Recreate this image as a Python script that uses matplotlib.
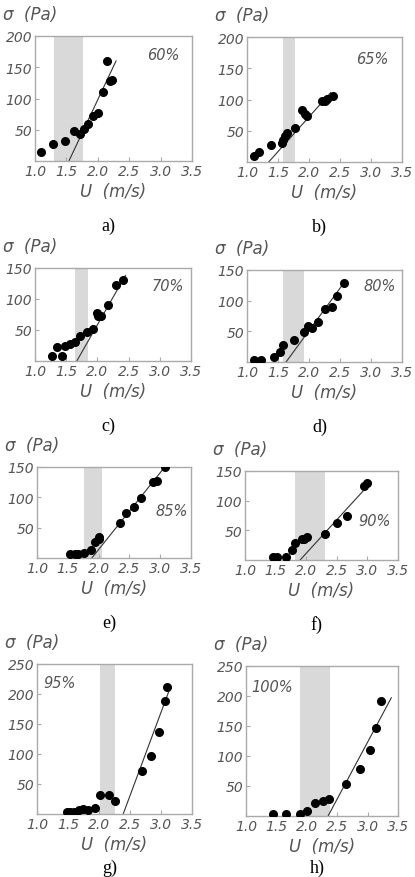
import matplotlib
matplotlib.use("Agg")
import matplotlib.pyplot as plt

W, H = 415, 878

# panel data: U (m/s), sigma (Pa)
u_a = [1.09, 1.29, 1.48, 1.62, 1.72, 1.78, 1.85, 1.93, 2.01, 2.09, 2.14, 2.19, 2.22]
s_a = [14, 28, 32, 48, 44, 52, 59, 72, 77, 111, 160, 128, 130]
u_b = [1.11, 1.19, 1.39, 1.56, 1.58, 1.62, 1.65, 1.78, 1.89, 1.93, 1.96, 2.21, 2.26, 2.29, 2.39]
s_b = [10, 16, 27, 31, 36, 41, 47, 55, 83, 77, 74, 98, 97, 101, 106]
u_c = [1.28, 1.36, 1.43, 1.48, 1.56, 1.64, 1.72, 1.84, 1.93, 1.99, 2.01, 2.05, 2.17, 2.30, 2.41]
s_c = [8, 22, 8, 24, 27, 30, 40, 46, 51, 78, 72, 73, 90, 123, 131]
u_d = [1.11, 1.23, 1.43, 1.53, 1.58, 1.76, 1.92, 1.99, 2.05, 2.15, 2.25, 2.37, 2.45, 2.56]
s_d = [4, 4, 8, 17, 27, 36, 49, 58, 55, 66, 86, 89, 108, 128]
u_e = [1.54, 1.61, 1.66, 1.76, 1.88, 1.94, 2.00, 2.01, 2.34, 2.45, 2.57, 2.69, 2.88, 2.94, 3.08]
s_e = [6, 6, 6, 9, 13, 26, 32, 34, 57, 75, 84, 99, 125, 127, 150]
u_f = [1.46, 1.52, 1.67, 1.77, 1.82, 1.93, 1.97, 2.01, 2.30, 2.50, 2.67, 2.94, 3.00]
s_f = [5, 5, 5, 17, 28, 35, 36, 38, 44, 62, 74, 125, 130]
u_g = [1.48, 1.54, 1.60, 1.67, 1.74, 1.82, 1.93, 2.02, 2.16, 2.26, 2.69, 2.84, 2.96, 3.07, 3.10]
s_g = [4, 4, 4, 6, 8, 7, 10, 31, 32, 21, 71, 97, 136, 189, 211]
u_h = [1.44, 1.66, 1.89, 2.00, 2.14, 2.27, 2.36, 2.65, 2.88, 3.04, 3.13, 3.22]
s_h = [4, 4, 4, 8, 21, 25, 29, 54, 78, 110, 146, 192]

# fitted lines (end points) and shaded bands
fit_u = [[1.54, 2.29], [1.35, 2.35], [1.67, 2.45], [1.63, 2.57],
         [1.89, 3.09], [1.90, 3.06], [2.39, 3.15], [2.35, 3.39]]
fit_s = [[0, 160], [0, 111], [0, 138], [0, 130],
         [0, 152], [0, 131], [0, 211], [0, 197]]
bands = [(1.31, 1.77), (1.58, 1.77), (1.64, 1.85), (1.58, 1.92),
         (1.77, 2.06), (1.82, 2.31), (2.02, 2.26), (1.89, 2.38)]
ymax = [200, 200, 150, 150, 150, 150, 250, 250]
pct = ["60%", "65%", "70%", "80%", "85%", "90%", "95%", "100%"]
letters = ["a)", "b)", "c)", "d)", "e)", "f)", "g)", "h)"]
xticks = [1.0, 1.5, 2.0, 2.5, 3.0, 3.5]

us = [u_a, u_b, u_c, u_d, u_e, u_f, u_g, u_h]
ss = [s_a, s_b, s_c, s_d, s_e, s_f, s_g, s_h]

# axes boxes in pixels: left, top, right, bottom
boxes = [(35, 37, 192, 162), (247, 38, 402, 163),
         (35, 269, 191, 362), (247, 271, 402, 363),
         (37, 468, 191, 559), (245, 472, 398, 561),
         (37, 665, 192, 815), (246, 667, 398, 817)]
# percent label positions (pixels)
pct_pos = [(163, 55), (372, 60), (168, 287), (380, 287),
           (172, 511), (375, 521), (60, 683), (272, 687)]

txt = "#555555"
frame = "#aaaaaa"
fig = plt.figure(figsize=(W / 100, H / 100), dpi=100)

for i in range(8):
    l, t, r, b = boxes[i]
    ax = fig.add_axes([l / W, 1 - b / H, (r - l) / W, (b - t) / H])
    ax.axvspan(*bands[i], color="#d9d9d9", lw=0, zorder=0)
    ax.plot(fit_u[i], fit_s[i], color="#333333", lw=0.8, zorder=2)
    ax.plot(us[i], ss[i], "o", color="black", ms=5.5, zorder=3)
    ax.set_xlim(1.0, 3.5)
    ax.set_ylim(0, ymax[i])
    ax.set_xticks(xticks)
    ax.set_xticklabels([f"{v:.1f}" for v in xticks])
    yt = list(range(50, ymax[i] + 1, 50))
    ax.set_yticks(yt)
    ax.tick_params(direction="in", length=3, width=0.8, color=frame,
                   labelcolor=txt, labelsize=10, pad=2)
    for lab in ax.get_xticklabels() + ax.get_yticklabels():
        lab.set_fontstyle("italic")
    for sp in ax.spines.values():
        sp.set_color(frame)
        sp.set_linewidth(1)
    px, py = pct_pos[i]
    fig.text(px / W, 1 - py / H, pct[i], color=txt, fontsize=10.5,
             style="italic", ha="center", va="center")
    # sigma label above, U label below, letter caption
    fig.text((l - 32) / W, 1 - (t - 22) / H, "σ  (Pa)", color=txt, fontsize=12,
             style="italic", ha="left", va="center")
    cx = (l + r) / 2
    fig.text(cx / W, 1 - (b + 30) / H, "U  (m/s)", color=txt, fontsize=12,
             style="italic", ha="center", va="center")
    cy = min(b + 64, 868)
    fig.text((cx - 5) / W, 1 - cy / H, letters[i], color="black", fontsize=13,
             family="Liberation Serif", ha="center", va="center")

fig.savefig("out.png", dpi=100)
